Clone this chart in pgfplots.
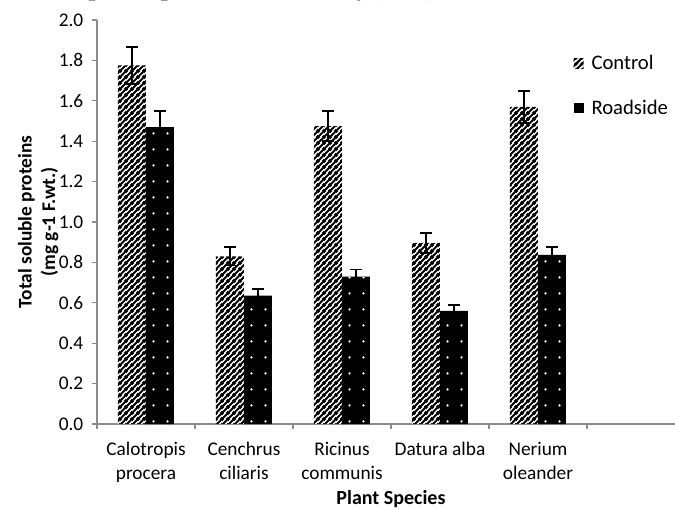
\documentclass[border=0pt]{standalone}
\usepackage{pgfplots}
\pgfplotsset{compat=1.18}
\usepackage{fontspec}
\setmainfont{Carlito}
\newfontfamily\titlefont{Liberation Serif}
\usetikzlibrary{patterns.meta}

\tikzdeclarepattern{
  name=wdiag,
  type=uncolored,
  bounding box={(0,0) and (4.5pt,4.5pt)},
  tile size={(4.5pt,4.5pt)},
  code={
    \pgfsetlinewidth{1.8pt}
    \pgfpathmoveto{\pgfpoint{-1pt}{-1pt}}
    \pgfpathlineto{\pgfpoint{5.5pt}{5.5pt}}
    \pgfpathmoveto{\pgfpoint{-2pt}{2.5pt}}
    \pgfpathlineto{\pgfpoint{2pt}{6.5pt}}
    \pgfpathmoveto{\pgfpoint{2.5pt}{-2pt}}
    \pgfpathlineto{\pgfpoint{6.5pt}{2pt}}
    \pgfusepath{stroke}
  }
}
\tikzdeclarepattern{
  name=sparsedots,
  type=uncolored,
  bounding box={(-5.25pt,0pt) and (5.25pt,12pt)},
  tile size={(10.5pt,12pt)},
  code={
    \pgfpathcircle{\pgfpoint{0pt}{6pt}}{1pt}
    \pgfusepath{fill}
  }
}

\pgfplotstableread{
x  c      ce     r      re
1  1.775  0.093  1.470  0.080
2  0.830  0.045  0.635  0.035
3  1.475  0.075  0.730  0.035
4  0.897  0.050  0.560  0.030
5  1.570  0.080  0.837  0.041
}\datatable

\begin{document}
\begin{tikzpicture}
\begin{axis}[
  at={(72.75pt,63pt)}, anchor=south west,
  scale only axis,
  width=441pt, height=303pt,
  xmin=0.5, xmax=6.5, ymin=0, ymax=2,
  ybar=0pt, bar width=21pt,
  axis x line*=bottom, axis y line*=left,
  axis line style={-, draw=gray!90, line width=0.8pt},
  tick align=outside,
  xtick={1,2,3,4,5},
  xticklabels={{Calotropis\\procera},{Cenchrus\\ciliaris},{Ricinus\\communis},{Datura alba},{Nerium\\oleander}},
  x tick label style={align=center, font=\fontsize{14.5}{18}\selectfont, yshift=-6.5pt},
  every major x tick/.append style={draw=none},
  minor xtick={0.5,1.5,2.5,3.5,4.5,5.5,6.5},
  minor tick length=3.75pt,
  every minor x tick/.append style={draw=gray!90, line width=0.8pt},
  ytick={0,0.2,...,2.0},
  major tick length=3.75pt,
  every major y tick/.append style={draw=gray!90, line width=0.8pt},
  y tick label style={font=\fontsize{14.5}{17}\selectfont, xshift=-3pt, /pgf/number format/.cd, fixed, fixed zerofill, precision=1, assume math mode=true},
  xlabel={Plant Species},
  xlabel style={font=\fontsize{15}{18}\selectfont\bfseries, yshift=1.5pt},
  ylabel={Total soluble proteins\\(mg g-1  F.wt.)},
  ylabel style={font=\fontsize{14.5}{17.5}\selectfont\bfseries, align=center, yshift=-6.5pt},
  legend style={draw=none, fill=none, at={(0.81,0.92)}, anchor=north west,
    font=\fontsize{15.5}{18}\selectfont, row sep=17.5pt, inner sep=0pt,
    /tikz/every odd column/.append style={column sep=4pt}},
  legend cell align=left,
  legend image code/.code={\path[#1, draw=none] (0pt,-3.75pt) rectangle (7.5pt,3.75pt);},
  error bars/error bar style={black, line width=1.3pt},
  error bars/error mark options={rotate=90, mark size=4.5pt, line width=1.3pt, black},
]
\addplot[draw=none, fill=white, postaction={pattern=wdiag, pattern color=black},
  error bars/.cd, y dir=both, y explicit]
  table[x=x, y=c, y error=ce] {\datatable};
\addlegendentry{Control}
\addplot[draw=none, fill=black, postaction={pattern=sparsedots, pattern color=white},
  error bars/.cd, y dir=both, y explicit]
  table[x=x, y=r, y error=re] {\datatable};
\addlegendentry{Roadside}
\end{axis}
\node[anchor=base east, font=\titlefont\bfseries\fontsize{19}{23}\selectfont] at (331.5pt,384.6pt) {in plant species of motorway (M-1)};
\pgfresetboundingbox
\useasboundingbox (0,0) rectangle (506.25pt,381pt);
\end{tikzpicture}
\end{document}
